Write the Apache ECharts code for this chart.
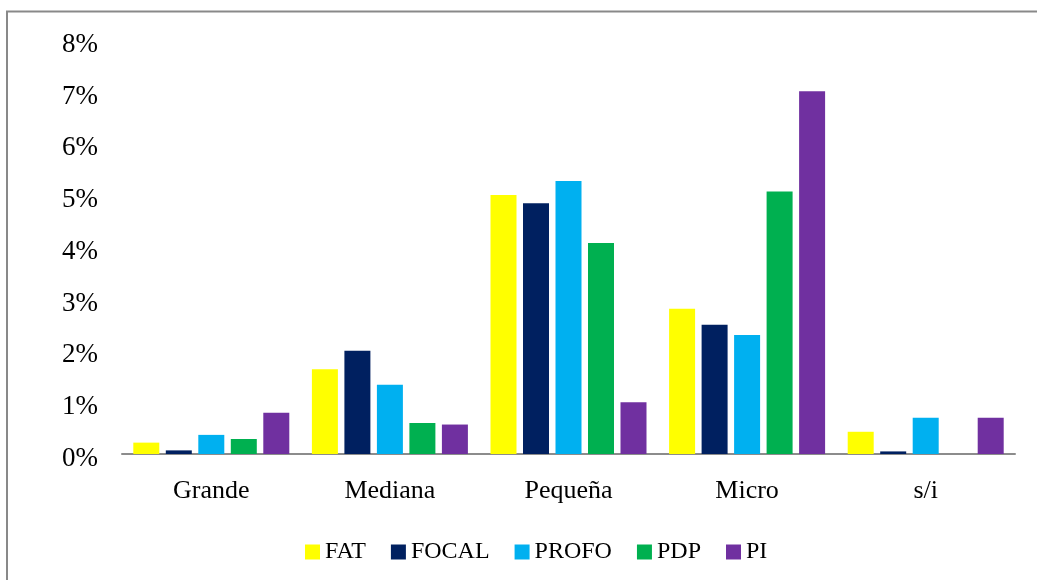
<!DOCTYPE html>
<html>
<head>
<meta charset="utf-8">
<script src="https://cdn.jsdelivr.net/npm/echarts@6/dist/echarts.min.js"></script>
<style>html,body{margin:0;padding:0;background:#fff}#c{width:1037px;height:580px}</style>
</head>
<body>
<div id="c"></div>
<script>
var categories = ['Grande', 'Mediana', 'Pequeña', 'Micro', 's/i'];
var seriesNames = ['FAT', 'FOCAL', 'PROFO', 'PDP', 'PI'];
var colors = ['#FFFF00', '#002060', '#00B0F0', '#00B050', '#7030A0'];
var FAT   = [0.22, 1.64, 5.01, 2.81, 0.43];
var FOCAL = [0.07, 2.00, 4.85, 2.50, 0.05];
var PROFO = [0.37, 1.34, 5.28, 2.30, 0.70];
var PDP   = [0.29, 0.60, 4.08, 5.08, null];
var PI    = [0.80, 0.57, 1.00, 7.02, 0.70];
var yTicks = [0, 1, 2, 3, 4, 5, 6, 7, 8];
var values = [FAT, FOCAL, PROFO, PDP, PI];

var font = 'Liberation Serif';
var chart = echarts.init(document.getElementById('c'));
chart.setOption({
  animation: false,
  textStyle: {fontFamily: font},
  graphic: [{
    type: 'rect', silent: true,
    shape: {x: 7, y: 11.5, width: 1100, height: 700},
    style: {fill: 'none', stroke: '#898989', lineWidth: 2}
  }],
  grid: {left: 122, right: 22, top: 40.5, bottom: 126, containLabel: false},
  legend: {
    data: seriesNames,
    left: 300, top: 535,
    itemWidth: 15, itemHeight: 15, itemGap: 25,
    icon: 'rect',
    textStyle: {fontFamily: font, fontSize: 24, color: '#000', padding: [0,0,0,0]}
  },
  xAxis: {
    type: 'category', data: categories,
    axisLine: {lineStyle: {color: '#8c8c8c', width: 2}},
    axisTick: {show: false},
    axisLabel: {fontFamily: font, fontSize: 26, color: '#000', margin: 24}
  },
  yAxis: {
    type: 'value', min: yTicks[0], max: yTicks[yTicks.length-1], interval: 1,
    axisLine: {show: false}, axisTick: {show: false}, splitLine: {show: false},
    axisLabel: {color: '#000', margin: 24,
      formatter: function (v) { return '{a|' + v + '%}'; },
      rich: {a: {fontFamily: font, fontSize: 27, color: '#000', padding: [9, 0, 0, 0]}}}
  },
  series: seriesNames.map(function (n, i) {
    return {
      name: n, type: 'bar', data: values[i],
      barWidth: 26, barGap: '25%',
      itemStyle: {color: colors[i]}
    };
  })
});
</script>
</body>
</html>
